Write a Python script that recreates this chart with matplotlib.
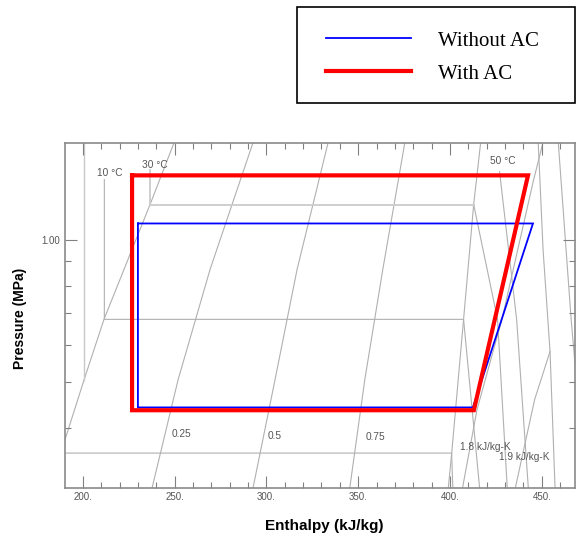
import matplotlib
matplotlib.use('Agg')
import matplotlib.pyplot as plt
from matplotlib.patches import Rectangle
from matplotlib.ticker import FixedLocator, FuncFormatter, NullFormatter

# ---- cycle data (enthalpy kJ/kg, pressure MPa) ----
with_h = [226.8, 442.5, 413.0, 226.8, 226.8]
with_p = [1.365, 1.365, 0.437, 0.437, 1.365]
without_h = [230.0, 445.2, 412.5, 230.0, 230.0]
without_p = [1.081, 1.081, 0.443, 0.443, 1.081]

# ---- background chart lines ----
sat_liq_h = [185.0, 190.3, 200.7, 211.5, 236.6, 249.7]
sat_liq_p = [0.345, 0.379, 0.507, 0.679, 1.185, 1.60]
sat_vap_h = [398.9, 400.9, 407.4, 412.9, 416.7]
sat_vap_p = [0.295, 0.354, 0.679, 1.185, 1.60]

iso_a_h = [200.6, 200.6]
iso_a_p = [1.62, 0.507]
iso_10_h = [211.7, 211.7, 407.4, 416.3]
iso_10_p = [1.337, 0.679, 0.679, 0.295]
iso_30_h = [236.6, 236.6, 412.9]
iso_30_p = [1.404, 1.185, 1.185]
iso_30v_h = [412.9, 425.9, 431.3]
iso_30v_p = [1.185, 0.679, 0.295]
iso_low_h = [185.0, 400.9, 401.6]
iso_low_p = [0.355, 0.355, 0.295]
iso_50_h = [427.0, 436.3, 442.8]
iso_50_p = [1.39, 0.679, 0.295]
iso_70_h = [448.0, 450.7, 454.5, 457.3]
iso_70_p = [1.62, 0.953, 0.581, 0.295]
iso_90_h = [458.9, 466.0, 470.0]
iso_90_p = [1.62, 0.679, 0.45]

s18_h = [406.5, 414.7, 428.3, 445.2, 450.1, 451.0]
s18_p = [0.295, 0.438, 0.679, 1.318, 1.57, 1.62]
s19_h = [435.2, 446.1, 454.5]
s19_p = [0.295, 0.46, 0.581]

q25_h = [237.7, 251.9, 269.3, 292.7]
q50_h = [292.7, 304.7, 316.7, 333.6]
q75_h = [345.4, 353.6, 363.4, 375.4]
q_p = [0.2997, 0.507, 0.865, 1.60]

note_text = ['10 °C', '30 °C', '50 °C', '0.25', '0.5', '0.75', '1.8 kJ/kg-K', '1.9 kJ/kg-K']
note_h = [214.5, 239.1, 429.0, 253.8, 304.7, 359.4, 419.3, 440.3]
note_p = [1.384, 1.438, 1.46, 0.389, 0.385, 0.383, 0.366, 0.348]

x_major = [200, 250, 300, 350, 400, 450]
x_minor = [210, 220, 230, 240, 260, 270, 280, 290, 310, 320, 330, 340,
           360, 370, 380, 390, 410, 420, 430, 440, 460]
y_major = [1.0]
y_minor = [0.4, 0.5, 0.6, 0.7, 0.8, 0.9]

series_labels = ['Without AC', 'With AC']

# ---- figure ----
W, H = 576, 537
fig = plt.figure(figsize=(W / 100, H / 100), dpi=100)
L, R, T, B = 64.5, 575.0, 143.0, 488.0
ax = fig.add_axes([L / W, 1 - B / H, (R - L) / W, (B - T) / H])
ax.set_yscale('log')
ax.set_xlim(190.0, 468.1)
ax.set_ylim(0.2997, 1.597)

gray = '#b0b0b0'
lw = 0.8
for hh, pp in [(sat_liq_h, sat_liq_p), (sat_vap_h, sat_vap_p),
               (iso_10_h, iso_10_p), (iso_30v_h, iso_30v_p),
               (iso_low_h, iso_low_p), (iso_50_h, iso_50_p),
               (iso_70_h, iso_70_p), (iso_90_h, iso_90_p),
               (s18_h, s18_p), (s19_h, s19_p),
               (q25_h, q_p), (q50_h, q_p), (q75_h, q_p)]:
    ax.plot(hh, pp, color=gray, lw=lw, zorder=1)
ax.plot(iso_a_h, iso_a_p, color='#c8c8c8', lw=1.0, zorder=1)
ax.plot(iso_30_h, iso_30_p, color='#cccccc', lw=1.3, zorder=1)

for t, hx, py in zip(note_text, note_h, note_p):
    ax.text(hx, py, t, ha='center', va='center', fontsize=7.3,
            color='#555555', family='Liberation Sans', zorder=2)

l_without, = ax.plot(without_h, without_p, color='#0000ff', lw=1.3,
                     solid_joinstyle='miter', zorder=3, label=series_labels[0])
l_with, = ax.plot(with_h, with_p, color='#ff0000', lw=3.0,
                  solid_joinstyle='miter', zorder=4, label=series_labels[1])

# ticks
ax.xaxis.set_major_locator(FixedLocator(x_major))
ax.xaxis.set_minor_locator(FixedLocator(x_minor))
ax.xaxis.set_major_formatter(FuncFormatter(lambda v, _: f'{v:.0f}.'))
ax.xaxis.set_minor_formatter(NullFormatter())
ax.yaxis.set_major_locator(FixedLocator(y_major))
ax.yaxis.set_minor_locator(FixedLocator(y_minor))
ax.yaxis.set_major_formatter(FuncFormatter(lambda v, _: f'{v:.2f}'))
ax.yaxis.set_minor_formatter(NullFormatter())
ax.tick_params(which='both', direction='in', top=True, right=True,
               color='#808080', width=0.8, labelsize=7, labelcolor='#555555', pad=3)
ax.tick_params(which='major', length=8.5)
ax.tick_params(which='minor', length=4.5)
for lab in ax.get_xticklabels() + ax.get_yticklabels():
    lab.set_family('Liberation Sans')
for s in ax.spines.values():
    s.set_color('#8a8a8a')
    s.set_linewidth(1.2)

ax.set_xlabel('Enthalpy (kJ/kg)', fontsize=11, fontweight='bold', family='Liberation Sans')
ax.set_ylabel('Pressure (MPa)', fontsize=10, fontweight='bold', family='Liberation Sans')
ax.xaxis.set_label_coords((324 - L) / (R - L), (B - 519) / (B - T))
ax.yaxis.set_label_coords((27 - L) / (R - L), 0.493)

# legend box
fig.patches.append(Rectangle((297 / W, 1 - 103 / H), (575 - 297) / W, 96 / H,
                             transform=fig.transFigure, fill=False,
                             edgecolor='black', lw=1.2))
leg = fig.legend([l_without, l_with], series_labels, loc='upper left',
                 bbox_to_anchor=(326 / W, 1 - 31 / H), frameon=False,
                 borderpad=0, borderaxespad=0, handlelength=4.1,
                 handletextpad=1.3, labelspacing=0.65,
                 prop={'family': 'Liberation Serif', 'size': 15})
for t in leg.get_texts():
    t.set_color('black')

fig.savefig('out.png', dpi=100)
